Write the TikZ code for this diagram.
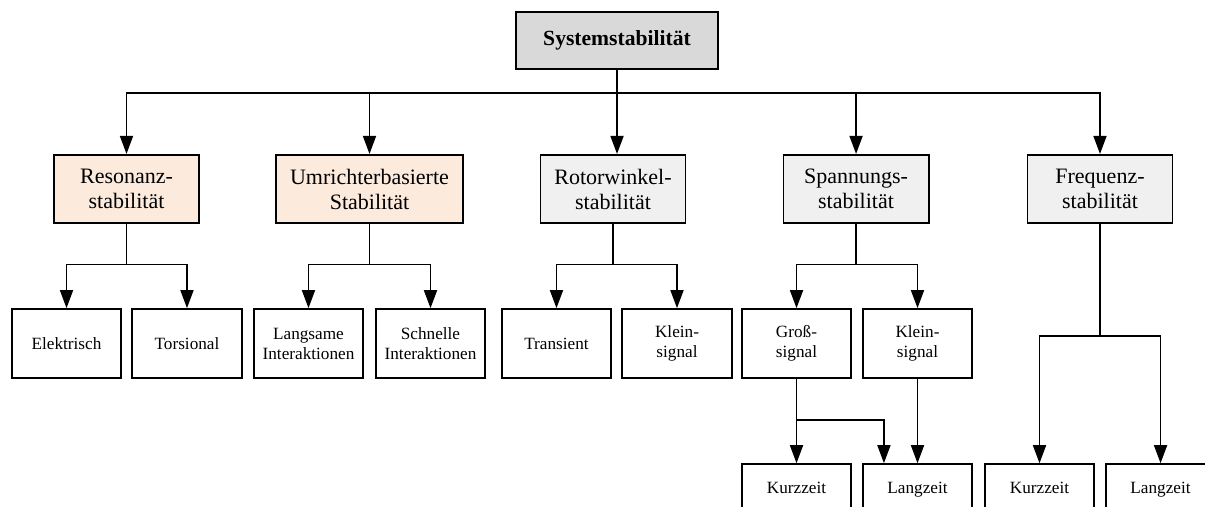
\documentclass[tikz,border=0pt]{standalone}
\usepackage{fontspec}
\setmainfont{Liberation Serif}
\usetikzlibrary{positioning,arrows.meta,calc}

\definecolor{peach}{HTML}{FCEADD}
\definecolor{paleGray}{HTML}{F0F0F0}
\definecolor{topGray}{HTML}{D9D9D9}

\begin{document}
\begin{tikzpicture}[
    root/.style={rectangle, draw, line width=0.9pt, fill=topGray, minimum width=3.55cm, minimum height=1.0cm, font=\fontsize{10.8}{13}\selectfont\bfseries},
    cat/.style={rectangle, draw, line width=0.9pt, minimum width=2.55cm, minimum height=1.2cm, align=center, inner sep=1pt, font=\fontsize{11}{12.5}\selectfont},
    leaf/.style={rectangle, draw, line width=0.9pt, minimum width=1.92cm, minimum height=1.21cm, align=center, inner sep=1pt, font=\fontsize{8.6}{10}\selectfont},
    timebox/.style={leaf, minimum height=0.84cm, text height=1.6ex, text depth=0.45ex},
    arrow/.style={-{Triangle[length=9pt, width=6.5pt]}, line width=0.8pt},
    link/.style={line width=0.8pt},
]
\useasboundingbox (0,0) rectangle (21.175,-8.892);

% ================== Root ==================
\node[root] (sys) at (10.843,-0.712) {Systemstabilität};

% ================== Categories ==================
\node[cat, fill=peach] (res) at (2.223,-3.321) {Resonanz-\\stabilität};
\node[cat, fill=peach, minimum width=3.29cm] (umr) at (6.493,-3.321) {Umrichterbasierte\\Stabilität};
\node[cat, fill=paleGray] (rot) at (10.772,-3.321) {Rotorwinkel-\\stabilität};
\node[cat, fill=paleGray] (spa) at (15.043,-3.321) {Spannungs-\\stabilität};
\node[cat, fill=paleGray] (fre) at (19.330,-3.321) {Frequenz-\\stabilität};

\draw[link] (sys.south) -- (10.843,-1.634) coordinate (bus);
\draw[arrow] (bus) -| (res);
\draw[arrow] (bus) -| (umr);
\draw[arrow] (bus) -- (bus |- rot.north);
\draw[arrow] (bus) -| (spa);
\draw[arrow] (bus) -| (fre);

% ================== Subclasses ==================
\node[leaf] (elek) at (1.169,-6.036) {Elektrisch};
\node[leaf] (tors) at (3.286,-6.036) {Torsional};
\node[leaf] (lang) at (5.421,-6.036) {Langsame\\Interaktionen};
\node[leaf] (schn) at (7.565,-6.036) {Schnelle\\Interaktionen};
\node[leaf] (trans) at (9.779,-6.036) {Transient};
\node[leaf] (kleinR) at (11.897,-6.036) {Klein-\\signal};
\node[leaf] (gross) at (13.997,-6.036) {Groß-\\signal};
\node[leaf] (kleinS) at (16.123,-6.036) {Klein-\\signal};

\foreach \p/\a/\b in {res/elek/tors, umr/lang/schn, rot/trans/kleinR, spa/gross/kleinS} {
    \draw[link] (\p.south) -- ++(0,-0.711) coordinate (split);
    \draw[arrow] (split) -| (\a);
    \draw[arrow] (split) -| (\b);
}

% ================== Time frames ==================
\node[timebox] (kurz1) at (13.997,-8.576) {Kurzzeit};
\node[timebox] (langz1) at (16.123,-8.576) {Langzeit};
\node[timebox] (kurz2) at (18.267,-8.576) {Kurzzeit};
\node[timebox] (langz2) at (20.394,-8.576) {Langzeit};

\draw[link] (gross.south) -- ++(0,-0.72) coordinate (gsplit);
\draw[arrow] (gsplit) -- (kurz1);
\draw[arrow] (gsplit) -| ([xshift=-0.59cm]langz1.north);
\draw[arrow] (kleinS) -- (langz1);

\draw[link] (fre.south) -- ++(0,-1.968) coordinate (fsplit);
\draw[arrow] (fsplit) -| (kurz2);
\draw[arrow] (fsplit) -| (langz2);

\end{tikzpicture}
\end{document}
